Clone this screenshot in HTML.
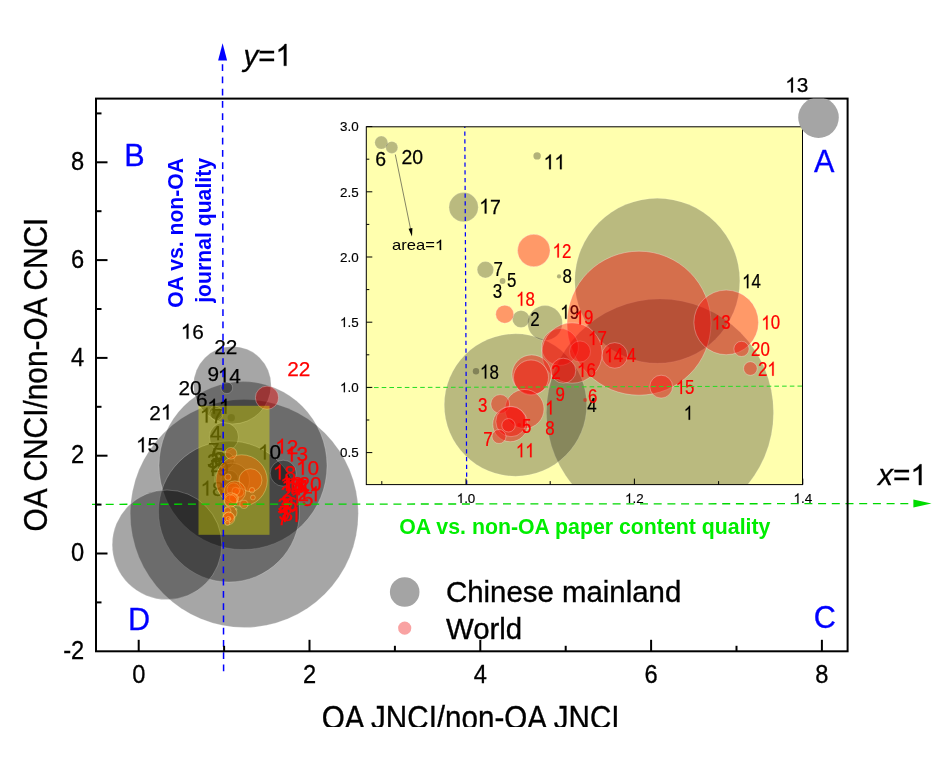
<!DOCTYPE html>
<html><head><meta charset="utf-8"><title>chart</title>
<style>html,body{margin:0;padding:0;background:#fff}svg{display:block;will-change:transform}</style></head>
<body>
<svg width="946" height="760" viewBox="0 0 946 760" font-family="Liberation Sans, sans-serif">
<defs>
<clipPath id="cm"><rect x="96.0" y="98.6" width="751.6" height="552.6999999999999"/></clipPath>
<clipPath id="ci"><rect x="366.3" y="126.8" width="436.2" height="357.8"/></clipPath>
<path id="one" vector-effect="non-scaling-stroke" d="M763 0H583V1147Q518 1085 412 1023Q307 961 223 930V1104Q374 1175 487 1276Q600 1377 647 1472H763Z"/>
</defs>
<rect width="946" height="760" fill="#fff"/>
<g clip-path="url(#cm)">
<circle cx="244.3" cy="513.5" r="114" fill="#000" fill-opacity="0.35" stroke="#fff" stroke-opacity="0.22" stroke-width="1"/>
<circle cx="243" cy="465.6" r="84" fill="#000" fill-opacity="0.35" stroke="#fff" stroke-opacity="0.22" stroke-width="1"/>
<circle cx="229" cy="511.5" r="70.5" fill="#000" fill-opacity="0.35" stroke="#fff" stroke-opacity="0.22" stroke-width="1"/>
<circle cx="167" cy="544.8" r="54.8" fill="#000" fill-opacity="0.35" stroke="#fff" stroke-opacity="0.22" stroke-width="1"/>
<circle cx="232.3" cy="385.2" r="38.8" fill="#000" fill-opacity="0.35" stroke="#fff" stroke-opacity="0.22" stroke-width="1"/>
<circle cx="283.2" cy="473.2" r="13" fill="#000" fill-opacity="0.35" stroke="#fff" stroke-opacity="0.22" stroke-width="1"/>
<circle cx="226.8" cy="387.8" r="5.8" fill="#000" fill-opacity="0.35" stroke="#fff" stroke-opacity="0.22" stroke-width="1"/>
<circle cx="215.5" cy="412.8" r="6.5" fill="#000" fill-opacity="0.35" stroke="#fff" stroke-opacity="0.22" stroke-width="1"/>
<circle cx="216.6" cy="414.6" r="6.0" fill="#000" fill-opacity="0.35" stroke="#fff" stroke-opacity="0.22" stroke-width="1"/>
<circle cx="223.9" cy="437.0" r="14.6" fill="#000" fill-opacity="0.35" stroke="#fff" stroke-opacity="0.22" stroke-width="1"/>
<circle cx="231.3" cy="417.8" r="3.7" fill="#000" fill-opacity="0.35"/>
<circle cx="226.1" cy="460.5" r="8.2" fill="#000" fill-opacity="0.35" stroke="#fff" stroke-opacity="0.22" stroke-width="1"/>
<circle cx="227.8" cy="464.7" r="2.9" fill="#000" fill-opacity="0.35"/>
<circle cx="233.5" cy="463.0" r="2.1" fill="#000" fill-opacity="0.35"/>
<circle cx="225.1" cy="498.6" r="3.2" fill="#000" fill-opacity="0.35"/>
<circle cx="229.7" cy="478.9" r="8.6" fill="#000" fill-opacity="0.35" stroke="#fff" stroke-opacity="0.22" stroke-width="1"/>
<circle cx="232.1" cy="480.5" r="17.4" fill="#000" fill-opacity="0.35" stroke="#fff" stroke-opacity="0.22" stroke-width="1"/>
</g>
<g transform="translate(180.7 338.8)" font-size="20.8" fill="#000" stroke="#000" stroke-width="0.25"><use href="#one" transform="translate(0.00 0) scale(0.01016 -0.01016)"/><text x="11.56" y="0">6</text></g>
<g transform="translate(214.3 353.8)" font-size="20.8" fill="#000" stroke="#000" stroke-width="0.25"><text x="0.00" y="0">22</text></g>
<g transform="translate(207.4 380.8)" font-size="20.8" fill="#000" stroke="#000" stroke-width="0.25"><text x="0.00" y="0">9</text></g>
<g transform="translate(217.8 382.6)" font-size="20.8" fill="#000" stroke="#000" stroke-width="0.25"><use href="#one" transform="translate(0.00 0) scale(0.01016 -0.01016)"/><text x="11.56" y="0">4</text></g>
<g transform="translate(178.5 395)" font-size="20.8" fill="#000" stroke="#000" stroke-width="0.25"><text x="0.00" y="0">20</text></g>
<g transform="translate(196 407)" font-size="20.8" fill="#000" stroke="#000" stroke-width="0.25"><text x="0.00" y="0">6</text></g>
<g transform="translate(207.2 413.7)" font-size="20.8" fill="#000" stroke="#000" stroke-width="0.25"><use href="#one" transform="translate(0.00 0) scale(0.01016 -0.01016)"/><use href="#one" transform="translate(11.56 0) scale(0.01016 -0.01016)"/></g>
<g transform="translate(149.2 419.5)" font-size="20.8" fill="#000" stroke="#000" stroke-width="0.25"><text x="0.00" y="0">2</text><use href="#one" transform="translate(11.56 0) scale(0.01016 -0.01016)"/></g>
<g transform="translate(199.8 422.6)" font-size="20.8" fill="#000" stroke="#000" stroke-width="0.25"><use href="#one" transform="translate(0.00 0) scale(0.01016 -0.01016)"/><text x="11.56" y="0">7</text></g>
<g transform="translate(209.9 439.7)" font-size="20.8" fill="#000" stroke="#000" stroke-width="0.25"><text x="0.00" y="0">4</text></g>
<g transform="translate(136 452.2)" font-size="20.8" fill="#000" stroke="#000" stroke-width="0.25"><use href="#one" transform="translate(0.00 0) scale(0.01016 -0.01016)"/><text x="11.56" y="0">5</text></g>
<g transform="translate(208 457)" font-size="20.8" fill="#000" stroke="#000" stroke-width="0.25"><text x="0.00" y="0">7</text></g>
<g transform="translate(212 462)" font-size="20.8" fill="#000" stroke="#000" stroke-width="0.25"><text x="0.00" y="0">5</text></g>
<g transform="translate(207 468)" font-size="20.8" fill="#000" stroke="#000" stroke-width="0.25"><text x="0.00" y="0">3</text></g>
<g transform="translate(214 466)" font-size="20.8" fill="#000" stroke="#000" stroke-width="0.25"><text x="0.00" y="0">8</text></g>
<g transform="translate(210 472)" font-size="20.8" fill="#000" stroke="#000" stroke-width="0.25"><text x="0.00" y="0">2</text></g>
<g transform="translate(206 476)" font-size="20.8" fill="#000" stroke="#000" stroke-width="0.25"><use href="#one" transform="translate(0.00 0) scale(0.01016 -0.01016)"/><text x="11.56" y="0">9</text></g>
<g transform="translate(200.5 495.6)" font-size="20.8" fill="#000" stroke="#000" stroke-width="0.25"><use href="#one" transform="translate(0.00 0) scale(0.01016 -0.01016)"/><text x="11.56" y="0">8</text></g>
<g transform="translate(258 459.4)" font-size="20.8" fill="#000" stroke="#000" stroke-width="0.25"><use href="#one" transform="translate(0.00 0) scale(0.01016 -0.01016)"/><text x="11.56" y="0">0</text></g>
<g clip-path="url(#cm)">
<circle cx="267" cy="397.7" r="11.6" fill="#c80000" fill-opacity="0.5" stroke="#fff" stroke-opacity="0.3"/>
<circle cx="241.6" cy="480.5" r="25.7" fill="#f00" fill-opacity="0.42" stroke="#fff" stroke-opacity="0.4" stroke-width="0.8"/>
<circle cx="250.5" cy="480.2" r="11.5" fill="#f00" fill-opacity="0.42" stroke="#fff" stroke-opacity="0.4" stroke-width="0.8"/>
<circle cx="231.0" cy="453.3" r="5.8" fill="#f00" fill-opacity="0.42" stroke="#fff" stroke-opacity="0.4" stroke-width="0.8"/>
<circle cx="243.9" cy="504.3" r="4.1" fill="#f00" fill-opacity="0.42" stroke="#fff" stroke-opacity="0.4" stroke-width="0.8"/>
<circle cx="252.0" cy="490.2" r="2.7" fill="#f00" fill-opacity="0.42" stroke="#fff" stroke-opacity="0.4" stroke-width="0.8"/>
<circle cx="252.9" cy="497.5" r="2.4" fill="#f00" fill-opacity="0.42" stroke="#fff" stroke-opacity="0.4" stroke-width="0.8"/>
<circle cx="239.2" cy="492.6" r="4.6" fill="#f00" fill-opacity="0.42" stroke="#fff" stroke-opacity="0.4" stroke-width="0.8"/>
<circle cx="233.6" cy="489.5" r="6.6" fill="#f00" fill-opacity="0.42" stroke="#fff" stroke-opacity="0.4" stroke-width="0.8"/>
<circle cx="235.7" cy="491.1" r="3.8" fill="#f00" fill-opacity="0.42" stroke="#fff" stroke-opacity="0.4" stroke-width="0.8"/>
<circle cx="234.9" cy="491.7" r="10.8" fill="#f00" fill-opacity="0.42" stroke="#fff" stroke-opacity="0.4" stroke-width="0.8"/>
<circle cx="234.0" cy="498.3" r="4.5" fill="#f00" fill-opacity="0.42" stroke="#fff" stroke-opacity="0.4" stroke-width="0.8"/>
<circle cx="230.8" cy="499.8" r="7.0" fill="#f00" fill-opacity="0.42" stroke="#fff" stroke-opacity="0.4" stroke-width="0.8"/>
<circle cx="230.7" cy="500.9" r="6.2" fill="#f00" fill-opacity="0.42" stroke="#fff" stroke-opacity="0.4" stroke-width="0.8"/>
<circle cx="230.0" cy="512.7" r="7.0" fill="#f00" fill-opacity="0.42" stroke="#fff" stroke-opacity="0.4" stroke-width="0.8"/>
<circle cx="227.6" cy="510.8" r="3.4" fill="#f00" fill-opacity="0.42" stroke="#fff" stroke-opacity="0.4" stroke-width="0.8"/>
<circle cx="228.6" cy="518.4" r="6.2" fill="#f00" fill-opacity="0.42" stroke="#fff" stroke-opacity="0.4" stroke-width="0.8"/>
<circle cx="228.7" cy="517.4" r="5.4" fill="#f00" fill-opacity="0.42" stroke="#fff" stroke-opacity="0.4" stroke-width="0.8"/>
<circle cx="228.4" cy="518.8" r="2.4" fill="#f00" fill-opacity="0.42" stroke="#fff" stroke-opacity="0.4" stroke-width="0.8"/>
<circle cx="227.4" cy="523.0" r="2.5" fill="#f00" fill-opacity="0.42" stroke="#fff" stroke-opacity="0.4" stroke-width="0.8"/>
<circle cx="229.5" cy="518.7" r="0.8" fill="#f00" fill-opacity="0.42" stroke="#fff" stroke-opacity="0.4" stroke-width="0.8"/>
<circle cx="236.2" cy="509.3" r="0.8" fill="#f00" fill-opacity="0.42" stroke="#fff" stroke-opacity="0.4" stroke-width="0.8"/>
<circle cx="228.0" cy="477.1" r="3.2" fill="#f00" fill-opacity="0.42" stroke="#fff" stroke-opacity="0.4" stroke-width="0.8"/>
</g>
<g transform="translate(287.3 375.6)" font-size="20.8" fill="#f00" stroke="#f00" stroke-width="0.25"><text x="0.00" y="0">22</text></g>
<g transform="translate(275.2 453.6)" font-size="20.8" fill="#f00" stroke="#f00" stroke-width="0.25"><use href="#one" transform="translate(0.00 0) scale(0.01016 -0.01016)"/><text x="11.56" y="0">2</text></g>
<g transform="translate(285 461.4)" font-size="20.8" fill="#f00" stroke="#f00" stroke-width="0.25"><use href="#one" transform="translate(0.00 0) scale(0.01016 -0.01016)"/><text x="11.56" y="0">3</text></g>
<g transform="translate(296 474.8)" font-size="20.8" fill="#f00" stroke="#f00" stroke-width="0.25"><use href="#one" transform="translate(0.00 0) scale(0.01016 -0.01016)"/><text x="11.56" y="0">0</text></g>
<g transform="translate(272.9 479.5)" font-size="20.8" fill="#f00" stroke="#f00" stroke-width="0.25"><use href="#one" transform="translate(0.00 0) scale(0.01016 -0.01016)"/><text x="11.56" y="0">8</text></g>
<g transform="translate(298.4 491.3)" font-size="20.8" fill="#f00" stroke="#f00" stroke-width="0.25"><text x="0.00" y="0">20</text></g>
<g transform="translate(297.4 501.2)" font-size="20.8" fill="#f00" stroke="#f00" stroke-width="0.25"><text x="0.00" y="0">2</text><use href="#one" transform="translate(11.56 0) scale(0.01016 -0.01016)"/></g>
<g transform="translate(290.4 505.5)" font-size="20.8" fill="#f00" stroke="#f00" stroke-width="0.25"><use href="#one" transform="translate(0.00 0) scale(0.01016 -0.01016)"/><text x="11.56" y="0">5</text></g>
<g transform="translate(285.7 494.1)" font-size="20.8" fill="#f00" stroke="#f00" stroke-width="0.25"><use href="#one" transform="translate(0.00 0) scale(0.01016 -0.01016)"/><text x="11.56" y="0">4</text></g>
<g transform="translate(291 494.5)" font-size="20.8" fill="#f00" stroke="#f00" stroke-width="0.25"><text x="0.00" y="0">4</text></g>
<g transform="translate(281.4 493.2)" font-size="20.8" fill="#f00" stroke="#f00" stroke-width="0.25"><use href="#one" transform="translate(0.00 0) scale(0.01016 -0.01016)"/><text x="11.56" y="0">7</text></g>
<g transform="translate(280.1 490.9)" font-size="20.8" fill="#f00" stroke="#f00" stroke-width="0.25"><use href="#one" transform="translate(0.00 0) scale(0.01016 -0.01016)"/><text x="11.56" y="0">9</text></g>
<g transform="translate(282.2 492.6)" font-size="20.8" fill="#f00" stroke="#f00" stroke-width="0.25"><use href="#one" transform="translate(0.00 0) scale(0.01016 -0.01016)"/><text x="11.56" y="0">6</text></g>
<g transform="translate(280.5 499.8)" font-size="20.8" fill="#f00" stroke="#f00" stroke-width="0.25"><text x="0.00" y="0">2</text></g>
<g transform="translate(282 509)" font-size="20.8" fill="#f00" stroke="#f00" stroke-width="0.25"><text x="0.00" y="0">9</text></g>
<g transform="translate(285.7 510.8)" font-size="20.8" fill="#f00" stroke="#f00" stroke-width="0.25"><text x="0.00" y="0">6</text></g>
<g transform="translate(279.5 514.2)" font-size="20.8" fill="#f00" stroke="#f00" stroke-width="0.25"><use href="#one" transform="translate(0.00 0) scale(0.01016 -0.01016)"/></g>
<g transform="translate(277.5 512.3)" font-size="20.8" fill="#f00" stroke="#f00" stroke-width="0.25"><text x="0.00" y="0">3</text></g>
<g transform="translate(278.2 520.3)" font-size="20.8" fill="#f00" stroke="#f00" stroke-width="0.25"><text x="0.00" y="0">5</text></g>
<g transform="translate(281.6 521.3)" font-size="20.8" fill="#f00" stroke="#f00" stroke-width="0.25"><text x="0.00" y="0">8</text></g>
<g transform="translate(277 524.5)" font-size="20.8" fill="#f00" stroke="#f00" stroke-width="0.25"><text x="0.00" y="0">7</text></g>
<g transform="translate(278.1 521.9)" font-size="20.8" fill="#f00" stroke="#f00" stroke-width="0.25"><use href="#one" transform="translate(0.00 0) scale(0.01016 -0.01016)"/><use href="#one" transform="translate(11.56 0) scale(0.01016 -0.01016)"/></g>
<rect x="198.5" y="405.8" width="71" height="129" fill="#ffff00" fill-opacity="0.36"/>
<line x1="92" y1="504.3" x2="914" y2="503.6" stroke="#00d800" stroke-width="1.3" stroke-dasharray="8 5.7"/>
<path d="M931.5 503.5 L913.4 499.6 L913.4 507.5 Z" fill="#00dc00"/>
<line x1="223.6" y1="671.2" x2="222.5" y2="60" stroke="#0000ff" stroke-width="1.5" stroke-dasharray="6.8 5.45"/>
<path d="M222.6 43.3 L218.1 60.6 L227.1 60.6 Z" fill="#0000ff"/>
<rect x="96.0" y="98.6" width="751.6" height="552.6999999999999" fill="none" stroke="#000" stroke-width="2"/>
<g stroke="#000" stroke-width="2">
<line x1="96.0" y1="602.4" x2="101.5" y2="602.4"/>
<line x1="96.0" y1="553.5" x2="107.5" y2="553.5"/>
<line x1="96.0" y1="504.6" x2="101.5" y2="504.6"/>
<line x1="96.0" y1="455.7" x2="107.5" y2="455.7"/>
<line x1="96.0" y1="406.8" x2="101.5" y2="406.8"/>
<line x1="96.0" y1="357.9" x2="107.5" y2="357.9"/>
<line x1="96.0" y1="309.0" x2="101.5" y2="309.0"/>
<line x1="96.0" y1="260.1" x2="107.5" y2="260.1"/>
<line x1="96.0" y1="211.2" x2="101.5" y2="211.2"/>
<line x1="96.0" y1="162.3" x2="107.5" y2="162.3"/>
<line x1="96.0" y1="113.4" x2="101.5" y2="113.4"/>
<line x1="138.7" y1="651.3" x2="138.7" y2="639.8"/>
<line x1="224.1" y1="651.3" x2="224.1" y2="645.8"/>
<line x1="309.5" y1="651.3" x2="309.5" y2="639.8"/>
<line x1="394.9" y1="651.3" x2="394.9" y2="645.8"/>
<line x1="480.3" y1="651.3" x2="480.3" y2="639.8"/>
<line x1="565.7" y1="651.3" x2="565.7" y2="645.8"/>
<line x1="651.1" y1="651.3" x2="651.1" y2="639.8"/>
<line x1="736.5" y1="651.3" x2="736.5" y2="645.8"/>
<line x1="821.9" y1="651.3" x2="821.9" y2="639.8"/>
</g>
<g transform="translate(84.2 658.9) scale(0.91 1)" font-size="26" fill="#000" stroke="#000" stroke-width="0.31"><text x="-23.11" y="0">-2</text></g>
<g transform="translate(84.2 561.1) scale(0.91 1)" font-size="26" fill="#000" stroke="#000" stroke-width="0.31"><text x="-14.46" y="0">0</text></g>
<g transform="translate(84.2 463.3) scale(0.91 1)" font-size="26" fill="#000" stroke="#000" stroke-width="0.31"><text x="-14.46" y="0">2</text></g>
<g transform="translate(84.2 365.5) scale(0.91 1)" font-size="26" fill="#000" stroke="#000" stroke-width="0.31"><text x="-14.46" y="0">4</text></g>
<g transform="translate(84.2 267.7) scale(0.91 1)" font-size="26" fill="#000" stroke="#000" stroke-width="0.31"><text x="-14.46" y="0">6</text></g>
<g transform="translate(84.2 169.9) scale(0.91 1)" font-size="26" fill="#000" stroke="#000" stroke-width="0.31"><text x="-14.46" y="0">8</text></g>
<g transform="translate(138.7 682.8) scale(0.91 1)" font-size="26" fill="#000" stroke="#000" stroke-width="0.31"><text x="-7.23" y="0">0</text></g>
<g transform="translate(309.5 682.8) scale(0.91 1)" font-size="26" fill="#000" stroke="#000" stroke-width="0.31"><text x="-7.23" y="0">2</text></g>
<g transform="translate(480.3 682.8) scale(0.91 1)" font-size="26" fill="#000" stroke="#000" stroke-width="0.31"><text x="-7.23" y="0">4</text></g>
<g transform="translate(651.1 682.8) scale(0.91 1)" font-size="26" fill="#000" stroke="#000" stroke-width="0.31"><text x="-7.23" y="0">6</text></g>
<g transform="translate(821.9 682.8) scale(0.91 1)" font-size="26" fill="#000" stroke="#000" stroke-width="0.31"><text x="-7.23" y="0">8</text></g>
<rect x="366.3" y="126.8" width="436.2" height="357.8" fill="#ffffae"/>
<g clip-path="url(#ci)">
<circle cx="660" cy="412.5" r="113.5" fill="#000" fill-opacity="0.27" stroke="#fff" stroke-opacity="0.15" stroke-width="1"/>
<circle cx="657.3" cy="280.8" r="82.5" fill="#000" fill-opacity="0.27" stroke="#fff" stroke-opacity="0.15" stroke-width="1"/>
<circle cx="515.5" cy="405" r="71.2" fill="#000" fill-opacity="0.27" stroke="#fff" stroke-opacity="0.15" stroke-width="1"/>
<circle cx="381.3" cy="142.6" r="6.5" fill="#000" fill-opacity="0.27" stroke="#fff" stroke-opacity="0.15" stroke-width="1"/>
<circle cx="391.8" cy="147.4" r="6.0" fill="#000" fill-opacity="0.27" stroke="#fff" stroke-opacity="0.15" stroke-width="1"/>
<circle cx="463.6" cy="207.2" r="14.6" fill="#000" fill-opacity="0.27" stroke="#fff" stroke-opacity="0.15" stroke-width="1"/>
<circle cx="537.1" cy="155.9" r="3.7" fill="#000" fill-opacity="0.30"/>
<circle cx="485.4" cy="269.7" r="8.2" fill="#000" fill-opacity="0.27" stroke="#fff" stroke-opacity="0.15" stroke-width="1"/>
<circle cx="502.6" cy="281" r="2.9" fill="#000" fill-opacity="0.30"/>
<circle cx="559" cy="276.4" r="2.1" fill="#000" fill-opacity="0.30"/>
<circle cx="476" cy="371.3" r="3.2" fill="#000" fill-opacity="0.30"/>
<circle cx="521" cy="319" r="8.6" fill="#000" fill-opacity="0.27" stroke="#fff" stroke-opacity="0.15" stroke-width="1"/>
<circle cx="545" cy="323" r="17.4" fill="#000" fill-opacity="0.27" stroke="#fff" stroke-opacity="0.15" stroke-width="1"/>
</g>
<g transform="translate(375.3 166.2) scale(0.95 1)" font-size="20.5" fill="#000" stroke="#000" stroke-width="0.25"><text x="0.00" y="0">6</text></g>
<g transform="translate(401.4 163.8) scale(0.95 1)" font-size="20.5" fill="#000" stroke="#000" stroke-width="0.25"><text x="0.00" y="0">20</text></g>
<g transform="translate(543.6 169.2) scale(0.95 1)" font-size="20.5" fill="#000" stroke="#000" stroke-width="0.25"><use href="#one" transform="translate(0.00 0) scale(0.01001 -0.01001)"/><use href="#one" transform="translate(11.40 0) scale(0.01001 -0.01001)"/></g>
<g transform="translate(479.2 213.5) scale(0.95 1)" font-size="20.5" fill="#000" stroke="#000" stroke-width="0.25"><use href="#one" transform="translate(0.00 0) scale(0.01001 -0.01001)"/><text x="11.40" y="0">7</text></g>
<g transform="translate(493.6 276.4) scale(0.87 1)" font-size="19.4" fill="#000" stroke="#000" stroke-width="0.23"><text x="0.00" y="0">7</text></g>
<g transform="translate(507 287.2) scale(0.87 1)" font-size="19.4" fill="#000" stroke="#000" stroke-width="0.23"><text x="0.00" y="0">5</text></g>
<g transform="translate(492.8 298) scale(0.87 1)" font-size="19.4" fill="#000" stroke="#000" stroke-width="0.23"><text x="0.00" y="0">3</text></g>
<g transform="translate(562.4 282.6) scale(0.87 1)" font-size="19.4" fill="#000" stroke="#000" stroke-width="0.23"><text x="0.00" y="0">8</text></g>
<g transform="translate(742.1 288.2) scale(0.87 1)" font-size="19.4" fill="#000" stroke="#000" stroke-width="0.23"><use href="#one" transform="translate(0.00 0) scale(0.00947 -0.00947)"/><text x="10.79" y="0">4</text></g>
<g transform="translate(530.2 326) scale(0.87 1)" font-size="19.4" fill="#000" stroke="#000" stroke-width="0.23"><text x="0.00" y="0">2</text></g>
<g transform="translate(560.3 318.8) scale(0.87 1)" font-size="19.4" fill="#000" stroke="#000" stroke-width="0.23"><use href="#one" transform="translate(0.00 0) scale(0.00947 -0.00947)"/><text x="10.79" y="0">9</text></g>
<g transform="translate(480 378.5) scale(0.87 1)" font-size="19.4" fill="#000" stroke="#000" stroke-width="0.23"><use href="#one" transform="translate(0.00 0) scale(0.00947 -0.00947)"/><text x="10.79" y="0">8</text></g>
<g transform="translate(587.2 411.5) scale(0.87 1)" font-size="19.4" fill="#000" stroke="#000" stroke-width="0.23"><text x="0.00" y="0">4</text></g>
<g transform="translate(683.8 419.7) scale(0.87 1)" font-size="19.4" fill="#000" stroke="#000" stroke-width="0.23"><use href="#one" transform="translate(0.00 0) scale(0.00947 -0.00947)"/></g>
<g clip-path="url(#ci)">
<circle cx="639" cy="323.2" r="72" fill="#f00" fill-opacity="0.40" stroke="#fff" stroke-opacity="0.3" stroke-width="1"/>
<circle cx="726.2" cy="322.4" r="32.3" fill="#f00" fill-opacity="0.40" stroke="#fff" stroke-opacity="0.3" stroke-width="1"/>
<circle cx="533.8" cy="250.5" r="16.3" fill="#f00" fill-opacity="0.40" stroke="#fff" stroke-opacity="0.3" stroke-width="1"/>
<circle cx="661.2" cy="386.6" r="11.4" fill="#f00" fill-opacity="0.40" stroke="#fff" stroke-opacity="0.3" stroke-width="1"/>
<circle cx="741.5" cy="348.9" r="7.6" fill="#f00" fill-opacity="0.40" stroke="#fff" stroke-opacity="0.3" stroke-width="1"/>
<circle cx="750.4" cy="368.5" r="6.8" fill="#f00" fill-opacity="0.40" stroke="#fff" stroke-opacity="0.3" stroke-width="1"/>
<circle cx="614.8" cy="355.4" r="12.8" fill="#f00" fill-opacity="0.40" stroke="#fff" stroke-opacity="0.3" stroke-width="1"/>
<circle cx="560" cy="347" r="18.4" fill="#f00" fill-opacity="0.40" stroke="#fff" stroke-opacity="0.3" stroke-width="1"/>
<circle cx="580" cy="351.5" r="10.5" fill="#f00" fill-opacity="0.40" stroke="#fff" stroke-opacity="0.3" stroke-width="1"/>
<circle cx="572" cy="353" r="30.2" fill="#f00" fill-opacity="0.40" stroke="#fff" stroke-opacity="0.3" stroke-width="1"/>
<circle cx="563.3" cy="370.7" r="12.5" fill="#f00" fill-opacity="0.40" stroke="#fff" stroke-opacity="0.3" stroke-width="1"/>
<circle cx="531.7" cy="374.6" r="19.7" fill="#f00" fill-opacity="0.40" stroke="#fff" stroke-opacity="0.3" stroke-width="1"/>
<circle cx="531" cy="377.5" r="17.5" fill="#f00" fill-opacity="0.40" stroke="#fff" stroke-opacity="0.3" stroke-width="1"/>
<circle cx="524.5" cy="409" r="19.5" fill="#f00" fill-opacity="0.40" stroke="#fff" stroke-opacity="0.3" stroke-width="1"/>
<circle cx="500.2" cy="404" r="9.4" fill="#f00" fill-opacity="0.40" stroke="#fff" stroke-opacity="0.3" stroke-width="1"/>
<circle cx="510.3" cy="424.2" r="17.5" fill="#f00" fill-opacity="0.40" stroke="#fff" stroke-opacity="0.3" stroke-width="1"/>
<circle cx="511" cy="421.5" r="15.2" fill="#f00" fill-opacity="0.40" stroke="#fff" stroke-opacity="0.3" stroke-width="1"/>
<circle cx="508.5" cy="425.3" r="6.7" fill="#f00" fill-opacity="0.40" stroke="#fff" stroke-opacity="0.3" stroke-width="1"/>
<circle cx="499" cy="436.5" r="7" fill="#f00" fill-opacity="0.40" stroke="#fff" stroke-opacity="0.3" stroke-width="1"/>
<circle cx="519.2" cy="425" r="2" fill="#f00" fill-opacity="0.45"/>
<circle cx="585.2" cy="400" r="2" fill="#f00" fill-opacity="0.45"/>
<circle cx="504.7" cy="314.2" r="9" fill="#f00" fill-opacity="0.40" stroke="#fff" stroke-opacity="0.3" stroke-width="1"/>
</g>
<g transform="translate(552.6 257.5) scale(0.87 1)" font-size="19.4" fill="#f00" stroke="#f00" stroke-width="0.23"><use href="#one" transform="translate(0.00 0) scale(0.00947 -0.00947)"/><text x="10.79" y="0">2</text></g>
<g transform="translate(516 305.8) scale(0.87 1)" font-size="19.4" fill="#f00" stroke="#f00" stroke-width="0.23"><use href="#one" transform="translate(0.00 0) scale(0.00947 -0.00947)"/><text x="10.79" y="0">8</text></g>
<g transform="translate(574.6 324.4) scale(0.87 1)" font-size="19.4" fill="#f00" stroke="#f00" stroke-width="0.23"><use href="#one" transform="translate(0.00 0) scale(0.00947 -0.00947)"/><text x="10.79" y="0">9</text></g>
<g transform="translate(711.8 329.4) scale(0.87 1)" font-size="19.4" fill="#f00" stroke="#f00" stroke-width="0.23"><use href="#one" transform="translate(0.00 0) scale(0.00947 -0.00947)"/><text x="10.79" y="0">3</text></g>
<g transform="translate(761.3 329.4) scale(0.87 1)" font-size="19.4" fill="#f00" stroke="#f00" stroke-width="0.23"><use href="#one" transform="translate(0.00 0) scale(0.00947 -0.00947)"/><text x="10.79" y="0">0</text></g>
<g transform="translate(588 345) scale(0.87 1)" font-size="19.4" fill="#f00" stroke="#f00" stroke-width="0.23"><use href="#one" transform="translate(0.00 0) scale(0.00947 -0.00947)"/><text x="10.79" y="0">7</text></g>
<g transform="translate(604.3 362.2) scale(0.87 1)" font-size="19.4" fill="#f00" stroke="#f00" stroke-width="0.23"><use href="#one" transform="translate(0.00 0) scale(0.00947 -0.00947)"/><text x="10.79" y="0">4</text></g>
<g transform="translate(626.8 362.2) scale(0.87 1)" font-size="19.4" fill="#f00" stroke="#f00" stroke-width="0.23"><text x="0.00" y="0">4</text></g>
<g transform="translate(751.1 356) scale(0.87 1)" font-size="19.4" fill="#f00" stroke="#f00" stroke-width="0.23"><text x="0.00" y="0">20</text></g>
<g transform="translate(758 375.7) scale(0.87 1)" font-size="19.4" fill="#f00" stroke="#f00" stroke-width="0.23"><text x="0.00" y="0">2</text><use href="#one" transform="translate(10.79 0) scale(0.00947 -0.00947)"/></g>
<g transform="translate(551.3 378.5) scale(0.87 1)" font-size="19.4" fill="#f00" stroke="#f00" stroke-width="0.23"><text x="0.00" y="0">2</text></g>
<g transform="translate(577 377) scale(0.87 1)" font-size="19.4" fill="#f00" stroke="#f00" stroke-width="0.23"><use href="#one" transform="translate(0.00 0) scale(0.00947 -0.00947)"/><text x="10.79" y="0">6</text></g>
<g transform="translate(675.7 394) scale(0.87 1)" font-size="19.4" fill="#f00" stroke="#f00" stroke-width="0.23"><use href="#one" transform="translate(0.00 0) scale(0.00947 -0.00947)"/><text x="10.79" y="0">5</text></g>
<g transform="translate(555.4 401.4) scale(0.87 1)" font-size="19.4" fill="#f00" stroke="#f00" stroke-width="0.23"><text x="0.00" y="0">9</text></g>
<g transform="translate(588 403.4) scale(0.87 1)" font-size="19.4" fill="#f00" stroke="#f00" stroke-width="0.23"><text x="0.00" y="0">6</text></g>
<g transform="translate(477.9 411.8) scale(0.87 1)" font-size="19.4" fill="#f00" stroke="#f00" stroke-width="0.23"><text x="0.00" y="0">3</text></g>
<g transform="translate(545.2 414.4) scale(0.87 1)" font-size="19.4" fill="#f00" stroke="#f00" stroke-width="0.23"><use href="#one" transform="translate(0.00 0) scale(0.00947 -0.00947)"/></g>
<g transform="translate(522 432.7) scale(0.87 1)" font-size="19.4" fill="#f00" stroke="#f00" stroke-width="0.23"><text x="0.00" y="0">5</text></g>
<g transform="translate(545.2 434.8) scale(0.87 1)" font-size="19.4" fill="#f00" stroke="#f00" stroke-width="0.23"><text x="0.00" y="0">8</text></g>
<g transform="translate(483.2 446) scale(0.87 1)" font-size="19.4" fill="#f00" stroke="#f00" stroke-width="0.23"><text x="0.00" y="0">7</text></g>
<g transform="translate(515.9 457.2) scale(0.87 1)" font-size="19.4" fill="#f00" stroke="#f00" stroke-width="0.23"><use href="#one" transform="translate(0.00 0) scale(0.00947 -0.00947)"/><use href="#one" transform="translate(10.79 0) scale(0.00947 -0.00947)"/></g>
<line x1="366.3" y1="387.6" x2="802.5" y2="386.1" stroke="#22dd22" stroke-width="1" stroke-dasharray="4.6 3.1"/>
<line x1="466.7" y1="484.6" x2="464.8" y2="126.8" stroke="#0000ff" stroke-width="1.25" stroke-dasharray="4.3 3.45"/>
<line x1="395.3" y1="154.5" x2="411.6" y2="234" stroke="#333" stroke-width="0.6"/>
<path d="M412.0 236.4 L408.6 228.7 L412.4 227.9 Z" fill="#000"/>
<g transform="translate(392 250) scale(1.17 1)"><text x="0" y="0" font-size="14.2" fill="#000">area=</text></g>
<g transform="translate(434.95 250) scale(1.17 1)" font-size="14.2" fill="#000" stroke="#000" stroke-width="0.17"><use href="#one" transform="translate(0.00 0) scale(0.00693 -0.00693)"/></g>
<rect x="366.3" y="126.8" width="436.2" height="357.8" fill="none" stroke="#000" stroke-width="1"/>
<g stroke="#000" stroke-width="1">
<line x1="366.3" y1="452.6" x2="372.3" y2="452.6"/>
<line x1="366.3" y1="420.0" x2="369.3" y2="420.0"/>
<line x1="366.3" y1="387.4" x2="372.3" y2="387.4"/>
<line x1="366.3" y1="354.8" x2="369.3" y2="354.8"/>
<line x1="366.3" y1="322.2" x2="372.3" y2="322.2"/>
<line x1="366.3" y1="289.6" x2="369.3" y2="289.6"/>
<line x1="366.3" y1="257.0" x2="372.3" y2="257.0"/>
<line x1="366.3" y1="224.4" x2="369.3" y2="224.4"/>
<line x1="366.3" y1="191.8" x2="372.3" y2="191.8"/>
<line x1="366.3" y1="159.2" x2="369.3" y2="159.2"/>
<line x1="366.3" y1="126.6" x2="372.3" y2="126.6"/>
<line x1="381.8" y1="484.6" x2="381.8" y2="481.1"/>
<line x1="466.0" y1="484.6" x2="466.0" y2="478.6"/>
<line x1="550.2" y1="484.6" x2="550.2" y2="481.1"/>
<line x1="634.4" y1="484.6" x2="634.4" y2="478.6"/>
<line x1="718.6" y1="484.6" x2="718.6" y2="481.1"/>
<line x1="802.8" y1="484.6" x2="802.8" y2="478.6"/>
</g>
<g transform="translate(358.6 457.4)" font-size="13.4" fill="#000" stroke="#000" stroke-width="0.16"><text x="-18.63" y="0">0.5</text></g>
<g transform="translate(358.6 392.2)" font-size="13.4" fill="#000" stroke="#000" stroke-width="0.16"><use href="#one" transform="translate(-18.63 0) scale(0.00654 -0.00654)"/><text x="-11.18" y="0">.0</text></g>
<g transform="translate(358.6 327.0)" font-size="13.4" fill="#000" stroke="#000" stroke-width="0.16"><use href="#one" transform="translate(-18.63 0) scale(0.00654 -0.00654)"/><text x="-11.18" y="0">.5</text></g>
<g transform="translate(358.6 261.8)" font-size="13.4" fill="#000" stroke="#000" stroke-width="0.16"><text x="-18.63" y="0">2.0</text></g>
<g transform="translate(358.6 196.6)" font-size="13.4" fill="#000" stroke="#000" stroke-width="0.16"><text x="-18.63" y="0">2.5</text></g>
<g transform="translate(358.6 131.4)" font-size="13.4" fill="#000" stroke="#000" stroke-width="0.16"><text x="-18.63" y="0">3.0</text></g>
<g transform="translate(466.0 503)" font-size="13.4" fill="#000" stroke="#000" stroke-width="0.16"><use href="#one" transform="translate(-9.31 0) scale(0.00654 -0.00654)"/><text x="-1.86" y="0">.0</text></g>
<g transform="translate(634.4 503)" font-size="13.4" fill="#000" stroke="#000" stroke-width="0.16"><use href="#one" transform="translate(-9.31 0) scale(0.00654 -0.00654)"/><text x="-1.86" y="0">.2</text></g>
<g transform="translate(802.8 503)" font-size="13.4" fill="#000" stroke="#000" stroke-width="0.16"><use href="#one" transform="translate(-9.31 0) scale(0.00654 -0.00654)"/><text x="-1.86" y="0">.4</text></g>
<g clip-path="url(#cm)"><circle cx="818.5" cy="117.6" r="20.3" fill="#a5a5a5"/></g>
<g transform="translate(785.2 92.4)" font-size="20.8" fill="#000" stroke="#000" stroke-width="0.25"><use href="#one" transform="translate(0.00 0) scale(0.01016 -0.01016)"/><text x="11.56" y="0">3</text></g>
<g font-size="30.6" fill="#0000ff" stroke="#0000ff" stroke-width="0.3">
<text x="814" y="171.6">A</text><text x="124.2" y="165.8">B</text><text x="813.8" y="628.4">C</text><text x="128" y="630">D</text>
</g>
<g font-size="21.2" font-weight="bold" fill="#0000ff" text-anchor="middle">
<text transform="translate(182.8 232.8) rotate(-90)">OA vs. non-OA</text>
<text transform="translate(210.6 230.4) rotate(-90)">journal quality</text>
</g>
<text x="399.3" y="534.2" font-size="21.3" font-weight="bold" fill="#00ee00">OA vs. non-OA paper content quality</text>
<g transform="translate(243.5 65.8) scale(0.97 1)" font-size="30.4" fill="#000" stroke="#000" stroke-width="0.3"><text><tspan font-style="italic">y</tspan>=</text>
<use href="#one" transform="translate(32.95 0) scale(0.01484 -0.01484)"/></g>
<g transform="translate(878 485.1) scale(1.03 1)" font-size="29" fill="#000" stroke="#000" stroke-width="0.3"><text><tspan font-style="italic">x</tspan>=</text>
<use href="#one" transform="translate(31.44 0) scale(0.01416 -0.01416)"/></g>
<circle cx="404.7" cy="592" r="14.8" fill="#a4a4a4"/>
<circle cx="404.7" cy="628.1" r="6.6" fill="#f9a2a2"/>
<text x="446" y="602.4" font-size="29.4" fill="#000" stroke="#000" stroke-width="0.35">Chinese mainland</text>
<text x="446" y="638.8" font-size="29.4" fill="#000" stroke="#000" stroke-width="0.35">World</text>
<text transform="translate(470.6 728.8) scale(0.8975 1)" font-size="33" fill="#000" stroke="#000" stroke-width="0.35" text-anchor="middle">OA JNCI/non-OA JNCI</text>
<text transform="translate(46.7 374.5) rotate(-90) scale(0.906 1)" font-size="33" fill="#000" stroke="#000" stroke-width="0.35" text-anchor="middle">OA CNCI/non-OA CNCI</text>
<rect x="0" y="727" width="946" height="33" fill="#fff"/>
</svg>
</body></html>
